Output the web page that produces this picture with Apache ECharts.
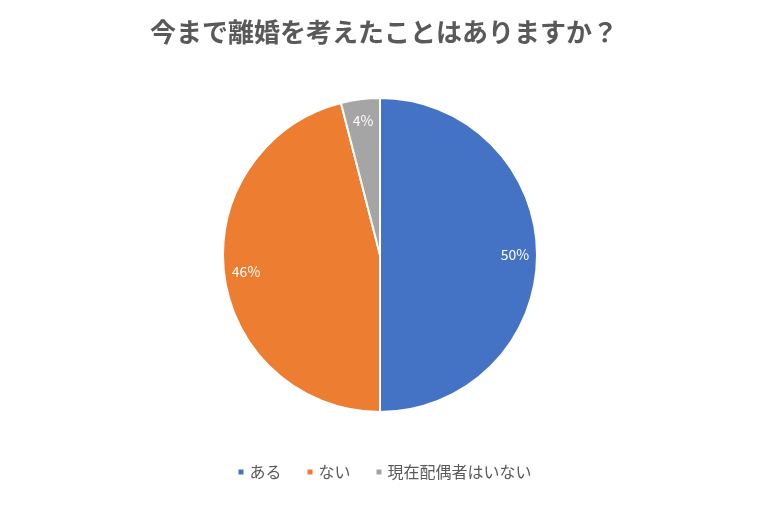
<!DOCTYPE html>
<html>
<head>
<meta charset="utf-8">
<script src="https://cdn.jsdelivr.net/npm/echarts@6/dist/echarts.min.js"></script>
<style>
  html, body { margin: 0; padding: 0; background: #fff; }
  #chart-container { width: 768px; height: 506px; }
</style>
</head>
<body>
<div id="chart-container"></div>
<script>
var categories = ['ある', 'ない', '現在配偶者はいない'];
var values = [50, 46, 4];
var colors = ['#4472C4', '#ED7D31', '#A5A5A5'];

var dom = document.getElementById('chart-container');
var myChart = echarts.init(dom, null, { renderer: 'canvas' });

var data = categories.map(function (name, i) {
  return { name: name, value: values[i], itemStyle: { color: colors[i] } };
});

var font = '"Noto Sans CJK JP", "Noto Sans", sans-serif';

var option = {
  animation: false,
  title: {
    text: '今まで離婚を考えたことはありますか？',
    left: 'center',
    top: 14,
    textStyle: { fontFamily: font, fontSize: 26, fontWeight: 'bold', color: '#595959' }
  },
  legend: {
    bottom: 21,
    left: 'center',
    icon: 'rect',
    itemWidth: 7,
    itemHeight: 7,
    itemGap: 24,
    data: categories,
    textStyle: { fontFamily: font, fontSize: 16, color: '#595959' }
  },
  series: [
    {
      type: 'pie',
      center: [380, 255],
      radius: [0, 157],
      startAngle: 90,
      clockwise: true,
      data: data,
      itemStyle: { borderColor: '#fff', borderWidth: 2 },
      label: { show: false },
      labelLine: { show: false },
      silent: true
    },
    {
      // transparent ring, only used to place the percentage labels near the rim
      type: 'pie',
      center: [380, 255],
      radius: [107, 157],
      startAngle: 90,
      clockwise: true,
      data: data.map(function (d) {
        return { name: d.name, value: d.value, itemStyle: { color: 'rgba(0,0,0,0)' } };
      }),
      label: {
        show: true,
        position: 'inside',
        formatter: '{c}%',
        color: '#fff',
        fontFamily: font,
        fontSize: 14
      },
      labelLine: { show: false },
      silent: true
    }
  ]
};

myChart.setOption(option);
window.addEventListener('resize', myChart.resize);
</script>
</body>
</html>
